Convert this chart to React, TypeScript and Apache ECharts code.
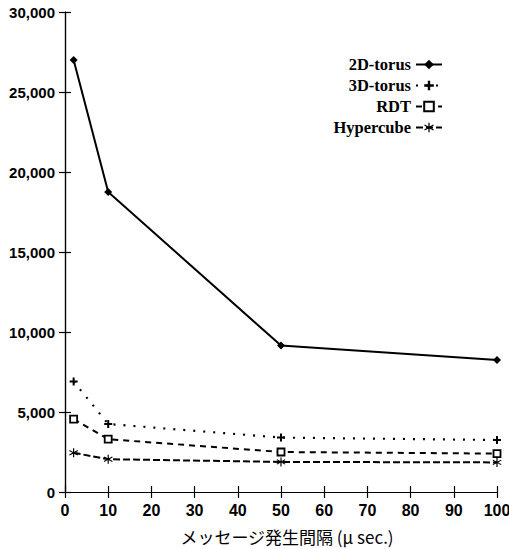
import React, { useEffect, useRef } from "react";
import * as echarts from "echarts";

const xValues = [2, 10, 50, 100];
const torus2D = [27000, 18750, 9150, 8250];
const torus3D = [6900, 4250, 3400, 3250];
const rdt = [4550, 3300, 2500, 2400];
const hypercube = [2450, 2050, 1880, 1850];
const seriesNames = ["2D-torus", "3D-torus", "RDT", "Hypercube"];
const xAxisName = "メッセージ発生間隔 (μ sec.)";

const plusPath = "path://M3,0H5V3H8V5H5V8H3V5H0V3H3Z";
const starPath = "path://M3.5,0H4.5V3.2L7.3,1.6L7.8,2.4L5,4L7.8,5.6L7.3,6.4L4.5,4.8V8H3.5V4.8L0.7,6.4L0.2,5.6L3,4L0.2,2.4L0.7,1.6L3.5,3.2Z";

export default function App() {
  const ref = useRef<HTMLDivElement>(null);
  useEffect(() => {
    const chart = echarts.init(ref.current!, undefined, { renderer: "svg" });
    const pair = (ys: number[]) => xValues.map((x, i) => [x, ys[i]]);
    const axisLine = { show: true, lineStyle: { color: "#000", width: 1.2 } };
    const tick = { show: true, inside: true, length: 6, lineStyle: { color: "#000", width: 1.2 } };
    chart.setOption({
      animation: false,
      backgroundColor: "#fff",
      grid: { left: 65, right: 12, top: 12, bottom: 57, containLabel: false, outerBoundsMode: "none" },
      legend: {
        orient: "vertical",
        right: 61,
        top: 51,
        align: "right",
        itemGap: 4,
        itemWidth: 26,
        itemHeight: 12,
        textStyle: { fontFamily: "Liberation Serif", fontWeight: "bold", fontSize: 16.5, color: "#000" },
        data: seriesNames,
      },
      xAxis: [
        {
          type: "value",
          min: 0,
          max: 100,
          interval: 10,
          axisLine,
          axisTick: tick,
          splitLine: { show: false },
          axisLabel: { color: "#000", fontFamily: "Liberation Sans", fontWeight: "bold", fontSize: 16, margin: 10 },
          name: xAxisName,
          nameLocation: "middle",
          nameGap: 36,
          nameTextStyle: { color: "#000", fontFamily: "Noto Sans CJK JP", fontSize: 17, padding: [0, 0, 0, 12] },
        },
        {
          type: "value",
          position: "top",
          min: 0,
          max: 100,
          interval: 10,
          axisLine,
          axisTick: tick,
          axisLabel: { show: false },
          splitLine: { show: false },
        },
      ],
      yAxis: [
        {
          type: "value",
          min: 0,
          max: 30000,
          interval: 5000,
          axisLine,
          axisTick: tick,
          splitLine: { show: false },
          axisLabel: {
            color: "#000",
            fontFamily: "Liberation Sans",
            fontWeight: "bold",
            fontSize: 15,
            margin: 10,
            formatter: (v: number) => v.toLocaleString("en-US"),
          },
        },
        {
          type: "value",
          position: "right",
          min: 0,
          max: 30000,
          interval: 5000,
          axisLine,
          axisTick: tick,
          axisLabel: { show: false },
          splitLine: { show: false },
        },
      ],
      series: [
        {
          name: seriesNames[0],
          type: "line",
          data: pair(torus2D),
          symbol: "diamond",
          symbolSize: 8,
          lineStyle: { color: "#000", width: 2, type: "solid" },
          itemStyle: { color: "#000" },
        },
        {
          name: seriesNames[1],
          type: "line",
          data: pair(torus3D),
          symbol: plusPath,
          symbolSize: 8,
          lineStyle: { color: "#000", width: 2.2, type: [2, 8] },
          itemStyle: { color: "#000" },
        },
        {
          name: seriesNames[2],
          type: "line",
          data: pair(rdt),
          symbol: "rect",
          symbolSize: 7,
          lineStyle: { color: "#000", width: 2, type: [6, 5] },
          itemStyle: { color: "#fff", borderColor: "#000", borderWidth: 1.8 },
        },
        {
          name: seriesNames[3],
          type: "line",
          data: pair(hypercube),
          symbol: starPath,
          symbolSize: 9,
          lineStyle: { color: "#000", width: 2, type: [7, 3] },
          itemStyle: { color: "#000" },
        },
      ],
    });
    return () => chart.dispose();
  }, []);
  return <div ref={ref} style={{ width: 509, height: 549, position: "absolute", left: 0, top: 0 }} />;
}
